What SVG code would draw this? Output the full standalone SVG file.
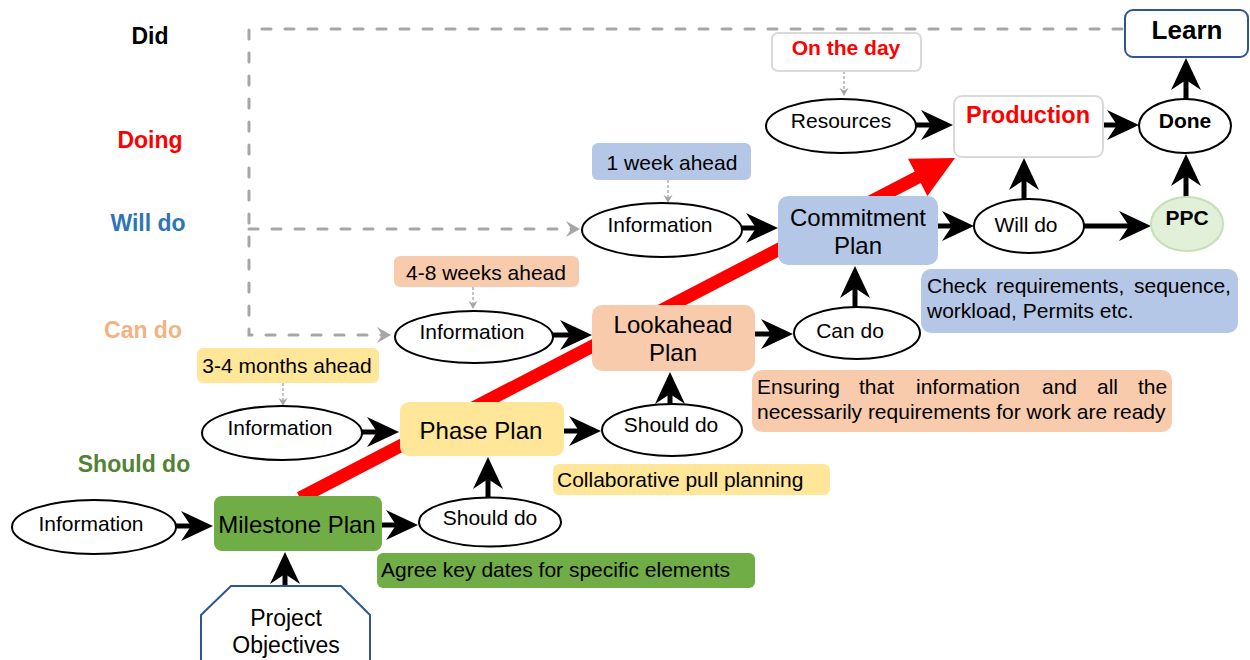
<svg xmlns="http://www.w3.org/2000/svg" width="1250" height="660" viewBox="0 0 1250 660">
<style>
text{font-family:"Liberation Sans",Arial,sans-serif;fill:#000}
.lbl{font-size:23px;font-weight:bold;text-anchor:middle}
.t21{font-size:21px}
.c{text-anchor:middle}
.b{font-weight:bold}
.t24{font-size:24px;text-anchor:middle}
.ell{fill:#fff;stroke:#000;stroke-width:2}
.blk{fill:none;stroke:#000;stroke-width:5;marker-end:url(#ah)}
.gd{fill:none;stroke:#A6A6A6;stroke-width:3;stroke-dasharray:9 14;stroke-linecap:round}
.gs{fill:none;stroke:#A6A6A6;stroke-width:1.3;stroke-dasharray:3 2;marker-end:url(#sh)}
.green{fill:#70AD47}
.yellow{fill:#FFE699}
.peach{fill:#F8CBAD}
.blue{fill:#B4C7E7}
</style>
<defs>
<marker id="ah" viewBox="-34 -17 36 34" markerWidth="36" markerHeight="34" refX="-20" refY="0" orient="auto" markerUnits="userSpaceOnUse">
<path d="M0,0 L-32,-15 L-22,0 L-32,15 Z" fill="#000"/>
</marker>
<marker id="gh" viewBox="-16 -9 18 18" markerWidth="18" markerHeight="18" refX="-6" refY="0" orient="auto" markerUnits="userSpaceOnUse">
<path d="M0,0 L-14,-8 L-9,0 L-14,8 Z" fill="#A6A6A6"/>
</marker>
<marker id="sh" viewBox="-9 -5 10 10" markerWidth="10" markerHeight="10" refX="-3" refY="0" orient="auto" markerUnits="userSpaceOnUse">
<path d="M0,0 L-8,-4.5 L-5.5,0 L-8,4.5 Z" fill="#A6A6A6"/>
</marker>
</defs>

<g id="row-labels">
<text class="lbl" x="150" y="44">Did</text>
<text class="lbl" x="150" y="148" style="fill:#FF0000">Doing</text>
<text class="lbl" x="148" y="231" style="fill:#2E75B6">Will do</text>
<text class="lbl" x="143" y="338" style="fill:#F4B183">Can do</text>
<text class="lbl" x="134" y="472" style="fill:#548235">Should do</text>
</g>

<g id="red-arrow">
<polygon points="297,492.2 914.7,171.5 908,158.7 955,158 927.4,195.9 920.7,183.1 303,503.8" fill="#FF0000"/>
</g>

<g id="connectors">
<path class="gd" d="M1122,29 H249 V335 H385" marker-end="url(#gh)"/>
<path class="gd" d="M249,229 H574" marker-end="url(#gh)"/>
<path class="gs" d="M844,71 V93"/>
<path class="gs" d="M668,180 V200"/>
<path class="gs" d="M473,287 V306"/>
<path class="gs" d="M283,383 V403"/>
<path class="blk" d="M176,526 H193"/>
<path class="blk" d="M285,586 V572"/>
<path class="blk" d="M382,525 H398"/>
<path class="blk" d="M488,498 V477"/>
<path class="blk" d="M362,432 H379"/>
<path class="blk" d="M564,431 H581"/>
<path class="blk" d="M670,404 V392"/>
<path class="blk" d="M553,335 H572"/>
<path class="blk" d="M755,334 H773"/>
<path class="blk" d="M855,307 V286"/>
<path class="blk" d="M742,228 H758"/>
<path class="blk" d="M938,226 H954"/>
<path class="blk" d="M1024,199 V178"/>
<path class="blk" d="M1084,226 H1131"/>
<path class="blk" d="M1186,197 V174"/>
<path class="blk" d="M1186,99 V78"/>
<path class="blk" d="M916,125 H933"/>
<path class="blk" d="M1103,125 H1119"/>
</g>

<g id="learn">
<rect x="1125" y="10" width="123" height="47" rx="8" fill="#fff" stroke="#2F5597" stroke-width="2"/>
<text x="1187" y="39" class="c b" style="font-size:26px">Learn</text>
</g>

<g id="on-the-day">
<rect x="772" y="33" width="149" height="38" rx="6" fill="#fff" stroke="#D9D9D9" stroke-width="2"/>
<text x="846" y="55" class="t21 c b" style="fill:#FF0000">On the day</text>
</g>

<g id="resources">
<ellipse class="ell" cx="841" cy="126" rx="75" ry="27"/>
<text x="841" y="128" class="t21 c">Resources</text>
</g>

<g id="production">
<rect x="954" y="96" width="149" height="61" rx="8" fill="#fff" stroke="#D9D9D9" stroke-width="2"/>
<text x="1028" y="123" class="c b" style="font-size:23.5px;fill:#FF0000">Production</text>
</g>

<g id="done">
<ellipse class="ell" cx="1185" cy="126" rx="46" ry="27"/>
<text x="1185" y="128" class="t21 c b">Done</text>
</g>

<g id="ppc">
<ellipse cx="1187" cy="224" rx="36" ry="27" fill="#E2F0D9" stroke="#C5E0B4" stroke-width="2"/>
<text x="1187" y="225" class="t21 c b">PPC</text>
</g>

<g id="will-do">
<ellipse class="ell" cx="1029" cy="226" rx="55" ry="27"/>
<text x="1026" y="232" class="t21 c">Will do</text>
</g>

<g id="week-ahead">
<rect class="blue" x="592" y="143" width="159" height="37" rx="6"/>
<text x="672" y="170" class="t21 c">1 week ahead</text>
</g>

<g id="info-will">
<ellipse class="ell" cx="662" cy="230" rx="80" ry="27"/>
<text x="660" y="232" class="t21 c">Information</text>
</g>

<g id="commitment-plan">
<rect class="blue" x="778" y="196" width="160" height="69" rx="10"/>
<text x="858" y="226" class="t24">Commitment</text>
<text x="858" y="254" class="t24">Plan</text>
</g>

<g id="check-note">
<rect class="blue" x="921" y="269" width="317" height="64" rx="10"/>
<text class="t21" y="293"><tspan x="927">Check</tspan><tspan x="996">requirements,</tspan><tspan x="1134">sequence,</tspan></text>
<text class="t21" x="927" y="318">workload, Permits etc.</text>
</g>

<g id="weeks-ahead">
<rect class="peach" x="394" y="256" width="185" height="31" rx="6"/>
<text x="486" y="280" class="t21 c">4-8 weeks ahead</text>
</g>

<g id="info-can">
<ellipse class="ell" cx="474" cy="337" rx="79" ry="26"/>
<text x="472" y="339" class="t21 c">Information</text>
</g>

<g id="lookahead-plan">
<rect class="peach" x="592" y="305" width="163" height="66" rx="10"/>
<text x="673" y="333" class="t24">Lookahead</text>
<text x="673" y="361" class="t24">Plan</text>
</g>

<g id="can-do">
<ellipse class="ell" cx="857" cy="333" rx="63" ry="26"/>
<text x="850" y="338" class="t21 c">Can do</text>
</g>

<g id="ensuring-note">
<rect class="peach" x="752" y="370" width="420" height="62" rx="10"/>
<text class="t21" y="394"><tspan x="757">Ensuring</tspan><tspan x="859">that</tspan><tspan x="916">information</tspan><tspan x="1042">and</tspan><tspan x="1097">all</tspan><tspan x="1138">the</tspan></text>
<text class="t21" x="757" y="419">necessarily requirements for work are ready</text>
</g>

<g id="months-ahead">
<rect class="yellow" x="197" y="348" width="182" height="35" rx="6"/>
<text x="287" y="373" class="t21 c">3-4 months ahead</text>
</g>

<g id="info-should">
<ellipse class="ell" cx="282" cy="433" rx="80" ry="27"/>
<text x="280" y="435" class="t21 c">Information</text>
</g>

<g id="phase-plan">
<rect class="yellow" x="400" y="402" width="164" height="54" rx="9"/>
<text x="481" y="439" class="t24">Phase Plan</text>
</g>

<g id="should-do-mid">
<ellipse class="ell" cx="672" cy="430" rx="70" ry="26"/>
<text x="671" y="432" class="t21 c">Should do</text>
</g>

<g id="collab-note">
<rect class="yellow" x="553" y="464" width="277" height="31" rx="6"/>
<text x="557" y="487" class="t21">Collaborative pull planning</text>
</g>

<g id="info-bottom">
<ellipse class="ell" cx="94" cy="527" rx="82" ry="27"/>
<text x="91" y="531" class="t21 c">Information</text>
</g>

<g id="milestone-plan">
<rect class="green" x="214" y="496" width="168" height="55" rx="8"/>
<text x="297" y="533" class="t24">Milestone Plan</text>
</g>

<g id="should-do-bottom">
<ellipse class="ell" cx="490" cy="522" rx="71" ry="24.5"/>
<text x="490" y="525" class="t21 c">Should do</text>
</g>

<g id="agree-note">
<rect class="green" x="377" y="553" width="378" height="35" rx="6"/>
<text x="381" y="577" class="t21">Agree key dates for specific elements</text>
</g>

<g id="project-objectives">
<polygon points="231,586 341,586 370,615 370,680 201,680 201,615" fill="#fff" stroke="#2F5597" stroke-width="2"/>
<text x="286" y="626" class="c" style="font-size:23px">Project</text>
<text x="286" y="653" class="c" style="font-size:23px">Objectives</text>
</g>
</svg>
